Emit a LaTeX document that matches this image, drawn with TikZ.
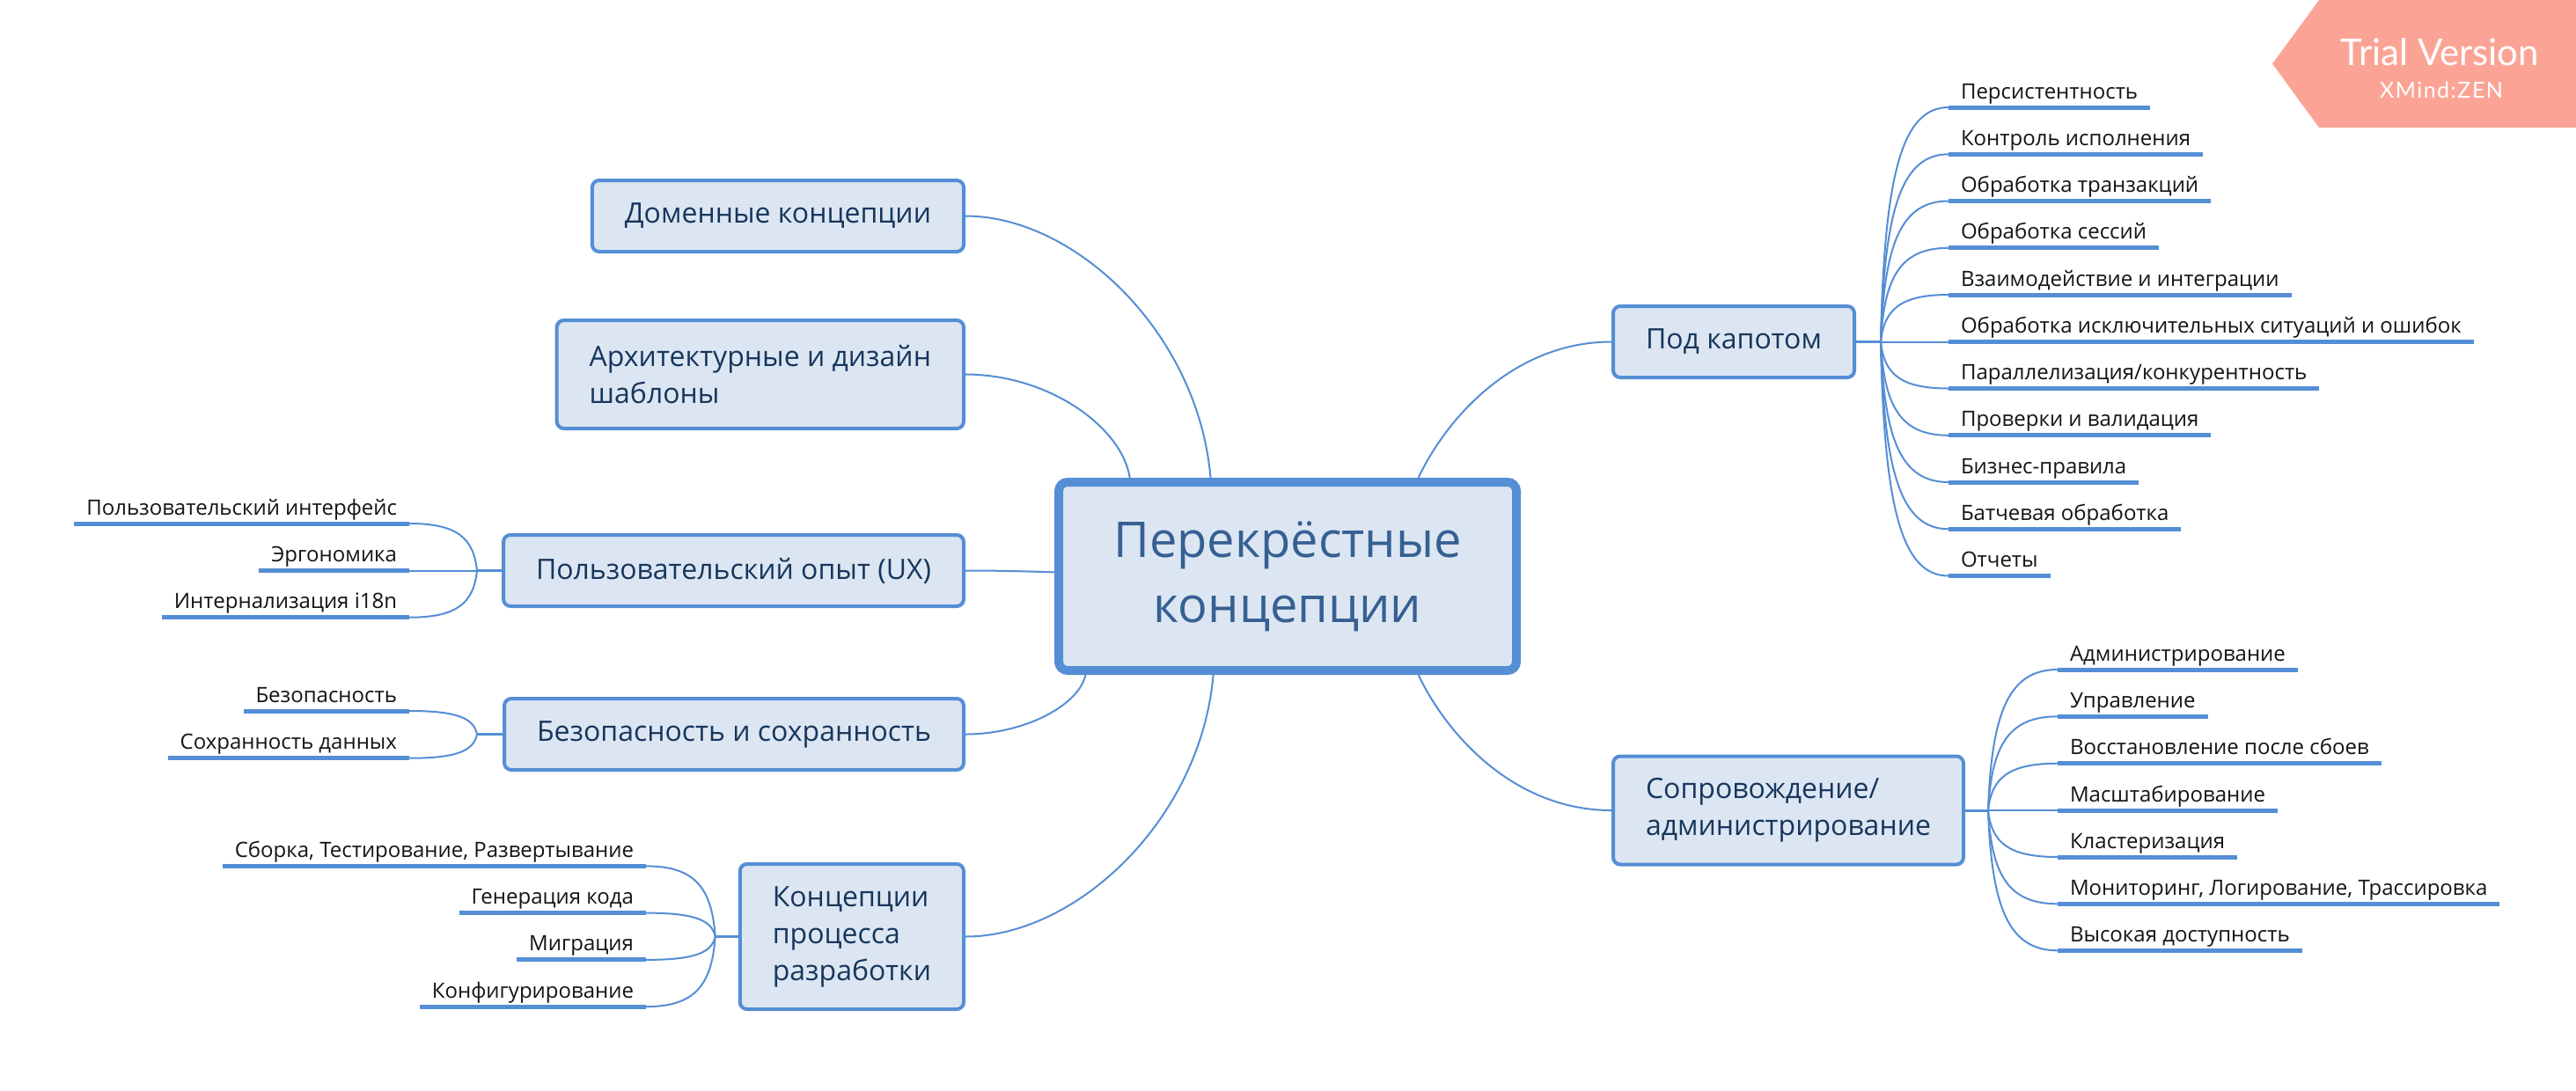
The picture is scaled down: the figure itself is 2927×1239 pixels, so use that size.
\documentclass[tikz,border=0pt]{standalone}
\usepackage{fontspec}
\setmainfont{Open Sans}
\newfontfamily\badgefont{Lato}
\newfontfamily\badgesmall{Lato}[LetterSpace=6]
\usetikzlibrary{calc,backgrounds}
\definecolor{lineblue}{RGB}{85,142,213}
\definecolor{boxfill}{RGB}{220,230,242}
\definecolor{boxtext}{RGB}{23,54,93}
\definecolor{centertext}{RGB}{54,96,146}
\definecolor{leaftext}{RGB}{20,20,20}
\definecolor{trialc}{RGB}{251,164,150}
\tikzset{
 mainbox/.style={draw=lineblue, line width=2pt, fill=boxfill, rounded corners=4pt, text=boxtext,
   font=\fontsize{16}{21}\selectfont, align=left, inner xsep=18.5pt, inner ysep=0pt, minimum height=40.5pt},
 centerbox/.style={draw=lineblue, line width=5pt, fill=boxfill, rounded corners=5pt, text=centertext,
   font=\fontsize{28}{37}\selectfont, align=center, minimum width=260pt, minimum height=107pt, inner sep=0pt},
 uline/.style={draw=lineblue, line width=2.5pt},
 leaf/.style={text=leaftext, font=\fontsize{12}{14}\selectfont, inner xsep=7pt, inner ysep=0pt, outer sep=0pt,
   text height=9pt, text depth=5pt,
   append after command={(\tikzlastnode.south west) edge[uline] (\tikzlastnode.south east)}},
 conn/.style={draw=lineblue, line width=1pt},
 stub/.style={draw=lineblue, line width=1.5pt},
 mmcurve/.style n args={3}{to path={let \p1=(\tikztostart), \p2=(\tikztotarget) in
   .. controls ({\x1+#1*(\x2-\x1)},{\y1+#2*(\y2-\y1)}) and ({\x1+#3*(\x2-\x1)},\y2) .. (\tikztotarget)}},
 leafcurve/.style={mmcurve={0.05}{0.7}{0.3}},
}
\begin{document}
\begin{tikzpicture}[x=0.5pt,y=-0.5pt]
\useasboundingbox (0,0) rectangle (2927,1239);

% central topic
\node[centerbox] (c) at (1463,655) {Перекрёстные\\концепции};

% main topics
\node[mainbox, anchor=east] (dom) at (1097,245.5) {Доменные концепции};
\node[mainbox, anchor=east, minimum height=61.5pt] (arch) at (1097,425.5) {Архитектурные и дизайн\\шаблоны};
\node[mainbox, anchor=east] (ux) at (1097,648.5) {Пользовательский опыт (UX)};
\node[mainbox, anchor=east] (sec) at (1097,834.5) {Безопасность и сохранность};
\node[mainbox, anchor=east, minimum height=82.5pt] (proc) at (1097,1064.5) {Концепции\\процесса\\разработки};
\node[mainbox, anchor=west] (hood) at (1831,388.5) {Под капотом};
\node[mainbox, anchor=west, minimum height=61.5pt] (ops) at (1831,921) {Сопровождение/\\администрирование};

% junctions
\coordinate (jux) at (542,648.5);
\coordinate (jsec) at (542,834.5);
\coordinate (jproc) at (812.7,1064.5);
\coordinate (jhood) at (2137,388.5);
\coordinate (jops) at (2259,921);

% UX leaves
\node[leaf, anchor=south east] (ux1) at (465,595) {Пользовательский интерфейс};
\node[leaf, anchor=south east] (ux2) at (465,648.5) {Эргономика};
\node[leaf, anchor=south east] (ux3) at (465,701.7) {Интернализация i18n};
% security leaves
\node[leaf, anchor=south east] (sec1) at (465,808) {Безопасность};
\node[leaf, anchor=south east] (sec2) at (465,861.7) {Сохранность данных};
% process leaves
\node[leaf, anchor=south east] (pr1) at (734,984.4) {Сборка, Тестирование, Развертывание};
\node[leaf, anchor=south east] (pr2) at (734,1037.6) {Генерация кода};
\node[leaf, anchor=south east] (pr3) at (734,1090.9) {Миграция};
\node[leaf, anchor=south east] (pr4) at (734,1144.1) {Конфигурирование};
% under the hood leaves
\node[leaf, anchor=south west] (h1) at (2214,122.0) {Персистентность};
\node[leaf, anchor=south west] (h2) at (2214,175.3) {Контроль исполнения};
\node[leaf, anchor=south west] (h3) at (2214,228.5) {Обработка транзакций};
\node[leaf, anchor=south west] (h4) at (2214,281.8) {Обработка сессий};
\node[leaf, anchor=south west] (h5) at (2214,335.0) {Взаимодействие и интеграции};
\node[leaf, anchor=south west] (h6) at (2214,388.5) {Обработка исключительных ситуаций и ошибок};
\node[leaf, anchor=south west] (h7) at (2214,441.5) {Параллелизация/конкурентность};
\node[leaf, anchor=south west] (h8) at (2214,494.8) {Проверки и валидация};
\node[leaf, anchor=south west] (h9) at (2214,548.0) {Бизнес-правила};
\node[leaf, anchor=south west] (h10) at (2214,601.3) {Батчевая обработка};
\node[leaf, anchor=south west] (h11) at (2214,654.5) {Отчеты};
% operations leaves
\node[leaf, anchor=south west] (o1) at (2338,761) {Администрирование};
\node[leaf, anchor=south west] (o2) at (2338,814.3) {Управление};
\node[leaf, anchor=south west] (o3) at (2338,867.7) {Восстановление после сбоев};
\node[leaf, anchor=south west] (o4) at (2338,921) {Масштабирование};
\node[leaf, anchor=south west] (o5) at (2338,974) {Кластеризация};
\node[leaf, anchor=south west] (o6) at (2338,1027.3) {Мониторинг, Логирование, Трассировка};
\node[leaf, anchor=south west] (o7) at (2338,1080.3) {Высокая доступность};

% trial badge
\fill[trialc] (2635,0) -- (2927,0) -- (2927,145) -- (2635,145) -- (2582,72.5) -- cycle;
\node[anchor=base, text=white, font=\badgefont\fontsize{21}{24}\selectfont, inner sep=0pt] (tv) at (2772.5,74) {Trial Version};
\node[anchor=base, text=white, font=\badgesmall\fontsize{12.5}{14}\selectfont, inner sep=0pt] (xz) at (2774,111) {XMind:ZEN};

\begin{scope}[on background layer]
\fill[white] (0,0) rectangle (2927,1239);
% central to main topics
\draw[conn] (c.128) to[mmcurve={0.05}{0.55}{0.55}] (dom.east);
\draw[conn] (c.148) to[mmcurve={0.05}{0.5}{0.5}] (arch.east);
\draw[conn] (c.179) to[mmcurve={0.3}{0.5}{0.6}] (ux.east);
\draw[conn] (c.206) to[mmcurve={0.05}{0.5}{0.5}] (sec.east);
\draw[conn] (c.233) to[mmcurve={0.05}{0.55}{0.55}] (proc.east);
\draw[conn] (c.37) to[mmcurve={0.15}{0.45}{0.5}] (hood.west);
\draw[conn] (c.323) to[mmcurve={0.15}{0.45}{0.5}] (ops.west);
% stubs
\draw[stub] (ux.west) -- (jux);
\draw[stub] (sec.west) -- (jsec);
\draw[stub] (proc.west) -- (jproc);
\draw[stub] (hood.east) -- (jhood);
\draw[stub] (ops.east) -- (jops);
% leaf connectors
\foreach \lf in {ux1,ux2,ux3} \draw[conn] (jux) to[leafcurve] (\lf.south east);
\foreach \lf in {sec1,sec2} \draw[conn] (jsec) to[leafcurve] (\lf.south east);
\foreach \lf in {pr1,pr2,pr3,pr4} \draw[conn] (jproc) to[leafcurve] (\lf.south east);
\foreach \lf in {h1,h2,h3,h4,h5,h6,h7,h8,h9,h10,h11} \draw[conn] (jhood) to[leafcurve] (\lf.south west);
\foreach \lf in {o1,o2,o3,o4,o5,o6,o7} \draw[conn] (jops) to[leafcurve] (\lf.south west);
\end{scope}
\end{tikzpicture}
\end{document}
